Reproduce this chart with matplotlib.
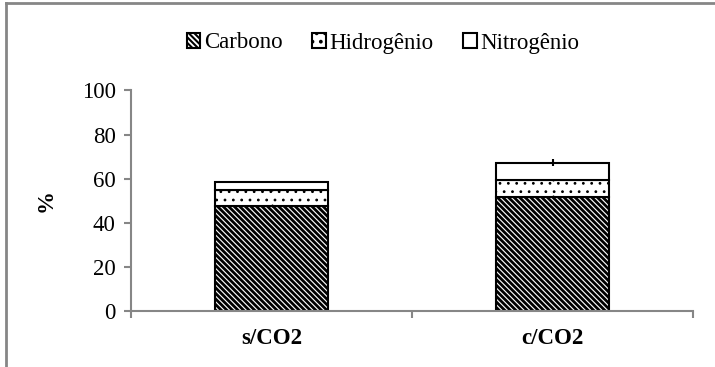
import matplotlib
matplotlib.use("Agg")
import matplotlib.pyplot as plt
import numpy as np
from matplotlib.patches import Rectangle
from matplotlib.lines import Line2D

categories = ["s/CO2", "c/CO2"]
carbono = [47.8, 51.8]
hidrogenio = [6.9, 7.6]
nitrogenio = [3.9, 7.9]
err_c = [0.5, 0.6]
err_h = [0.4, 0.5]
err_n = [0.4, 1.5]
series_names = ["Carbono", "Hidrogênio", "Nitrogênio"]
yticks = [0, 20, 40, 60, 80, 100]

plt.rcParams['font.family'] = ['Liberation Serif', 'DejaVu Serif']
FS = 16.5

fig = plt.figure(figsize=(7.15, 3.67), dpi=100)
ax = fig.add_axes([131/715, 1-311/367, (693-131)/715, (311-90.5)/367])

x = np.arange(len(categories))
w = 0.40
c = np.array(carbono); h = np.array(hidrogenio); n = np.array(nitrogenio)

def set_hlw(bars, lw):
    for b in bars:
        if hasattr(b, 'set_hatch_linewidth'):
            b.set_hatch_linewidth(lw)

b1 = ax.bar(x, c, w, color='white', edgecolor='black', hatch='\\\\\\\\\\\\', linewidth=1.5, zorder=2)
set_hlw(b1, 2.0)
b2 = ax.bar(x, h, w, bottom=c, color='white', edgecolor='black', hatch='..', linewidth=1.5, zorder=2)
set_hlw(b2, 0.8)
ax.bar(x, n, w, bottom=c+h, color='white', edgecolor='black', linewidth=1.5, zorder=2)
ax.errorbar(x, c, yerr=err_c, fmt='none', ecolor='black', elinewidth=1, capsize=0, zorder=3)
ax.errorbar(x, c+h, yerr=err_h, fmt='none', ecolor='black', elinewidth=1, capsize=0, zorder=3)
ax.errorbar(x, c+h+n, yerr=err_n, fmt='none', ecolor='black', elinewidth=1.5, capsize=0, zorder=3)

ax.set_xlim(-0.5, 1.5)
ax.set_ylim(0, 100)
ax.set_yticks(yticks)
ax.set_yticklabels([str(t) for t in yticks], fontsize=FS)
ax.set_xticks(x)
ax.set_xticklabels(categories, fontsize=FS, fontweight='bold')
ax.tick_params(axis='x', length=0, pad=12)
ax.set_xticks([-0.5, 0.5, 1.5], minor=True)
ax.tick_params(axis='x', which='minor', length=5, color='#868686', width=1.5, direction='out')
ax.tick_params(axis='y', length=5, color='#868686', width=1.5, direction='out', pad=6)
for s in ['top', 'right']:
    ax.spines[s].set_visible(False)
for s in ['left', 'bottom']:
    ax.spines[s].set_color('#868686')
    ax.spines[s].set_linewidth(1.5)
ax.set_ylabel('%', fontsize=FS, fontweight='bold', labelpad=18)

# legend
handles = [Rectangle((0, 0), 1, 1, facecolor='white', edgecolor='black', hatch='\\\\\\\\\\\\', linewidth=1.5),
           Rectangle((0, 0), 1, 1, facecolor='white', edgecolor='black', hatch='..', linewidth=1.5),
           Rectangle((0, 0), 1, 1, facecolor='white', edgecolor='black', linewidth=1.5)]
leg = fig.legend(handles, series_names, loc='center', bbox_to_anchor=(383/715, 1-43/367), ncol=3,
                 frameon=False, fontsize=FS, handlelength=0.6, handleheight=0.6, handletextpad=0.15,
                 columnspacing=1.3)
for p, lw in zip(leg.get_patches(), [1.5, 1.5, 1.0]):
    if hasattr(p, 'set_hatch_linewidth'):
        p.set_hatch_linewidth(lw)

# outer frame (left and top visible)
fig.add_artist(Line2D([6/715, 6/715], [0, 1-3/367], transform=fig.transFigure, color='#868686', linewidth=2))
fig.add_artist(Line2D([6/715, 1], [1-3/367, 1-3/367], transform=fig.transFigure, color='#868686', linewidth=2))

fig.savefig('out.png', dpi=100)
